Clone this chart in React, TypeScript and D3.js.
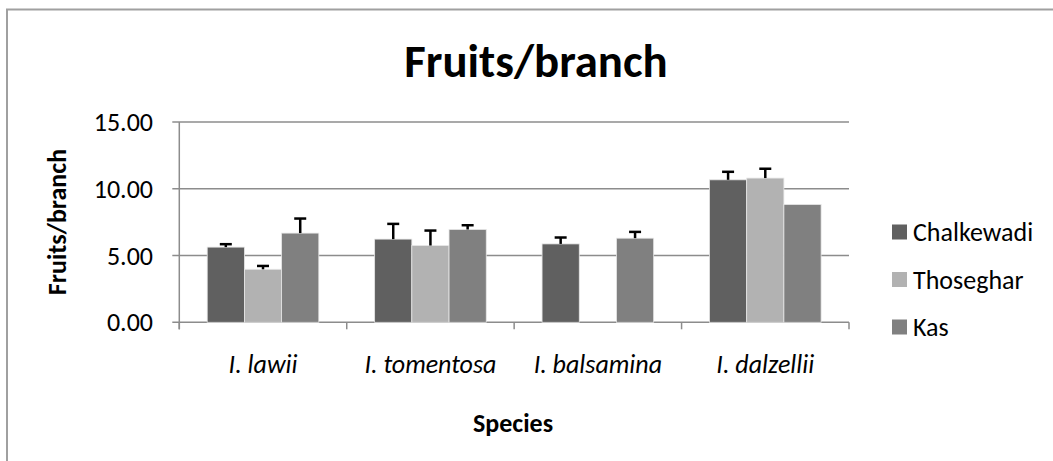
import React from "react";
import * as d3 from "d3";

const categories = ["I. lawii", "I. tomentosa", "I. balsamina", "I. dalzellii"];
const seriesNames = ["Chalkewadi", "Thoseghar", "Kas"];
const chalkewadi = [5.63, 6.23, 5.87, 10.67];
const thoseghar = [3.97, 5.75, 0, 10.8];
const kas = [6.68, 6.95, 6.3, 8.82];
const chalkewadiErr = [0.22, 1.14, 0.48, 0.6];
const thosegharErr = [0.25, 1.12, 0, 0.7];
const kasErr = [1.09, 0.32, 0.47, 0];
const yTicks = [0, 5, 10, 15];
const colors = ["#606060", "#b2b2b2", "#808080"];

const W = 1053;
const H = 461;
const FONT = "Calibri, Carlito, Lato, 'Open Sans', sans-serif";

export default function App() {
  const values = [chalkewadi, thoseghar, kas];
  const errs = [chalkewadiErr, thosegharErr, kasErr];
  const left = 179.3, right = 849, top = 122, bottom = 322.3;
  const y = d3.scaleLinear().domain([0, 15]).range([bottom, top]);
  const x0 = d3.scaleBand<string>().domain(categories).range([left, right]).padding(0);
  const x1 = d3
    .scaleBand<string>()
    .domain(seriesNames)
    .range([0, x0.bandwidth()])
    .paddingInner(0)
    .paddingOuter(0.75);
  const gridColor = "#8c8c8c";

  return (
    <svg
      width={W}
      height={H}
      style={{ position: "absolute", left: 0, top: 0, background: "#fff" }}
      fontFamily={FONT}
    >
      <rect x={0} y={0} width={W} height={H} fill="#fff" />
      {/* outer chart border */}
      <rect x={7} y={9.5} width={W + 20} height={H + 20} fill="none" stroke="#a0a0a0" strokeWidth={2} />

      <text x={536} y={77} textAnchor="middle" fontSize={46.8} fontWeight="bold" fill="#000">
        Fruits/branch
      </text>

      {/* gridlines */}
      {yTicks.map((t) => (
        <g key={t}>
          <line x1={left - 7} x2={right} y1={y(t)} y2={y(t)} stroke={gridColor} strokeWidth={1.5} />
          <text
            x={153}
            y={y(t)}
            dy="0.35em"
            textAnchor="end"
            fontSize={26}
            fill="#000"
          >
            {d3.format(".2f")(t)}
          </text>
        </g>
      ))}
      {/* y axis */}
      <line x1={left} x2={left} y1={top} y2={bottom + 7} stroke={gridColor} strokeWidth={1.5} />
      {/* category ticks */}
      {[...categories.map((c) => x0(c) as number), right].map((xv, i) => (
        <line key={i} x1={xv} x2={xv} y1={bottom} y2={bottom + 7} stroke={gridColor} strokeWidth={1.5} />
      ))}

      {/* bars */}
      {seriesNames.map((s, si) =>
        categories.map((c, ci) => {
          const v = values[si][ci];
          if (!v) return null;
          const bx = (x0(c) as number) + (x1(s) as number);
          const bw = x1.bandwidth();
          return (
            <rect
              key={s + c}
              x={bx}
              y={y(v)}
              width={bw}
              height={y(0) - y(v)}
              fill={colors[si]}
              stroke="#e6e6e6"
              strokeWidth={0.8}
            />
          );
        })
      )}

      {/* error bars */}
      {seriesNames.map((s, si) =>
        categories.map((c, ci) => {
          const v = values[si][ci];
          const e = errs[si][ci];
          if (!v || !e) return null;
          const cx = (x0(c) as number) + (x1(s) as number) + x1.bandwidth() / 2;
          return (
            <g key={"e" + s + c} stroke="#000" strokeWidth={2.5}>
              <line x1={cx} x2={cx} y1={y(v)} y2={y(v + e)} />
              <line x1={cx - 6} x2={cx + 6} y1={y(v + e)} y2={y(v + e)} />
            </g>
          );
        })
      )}

      {/* category labels */}
      {categories.map((c) => (
        <text
          key={c}
          x={(x0(c) as number) + x0.bandwidth() / 2}
          y={373}
          textAnchor="middle"
          fontSize={26}
          fontStyle="italic"
          fill="#000"
        >
          {c}
        </text>
      ))}

      <text x={513} y={432} textAnchor="middle" fontSize={26} fontWeight="bold" fill="#000">
        Species
      </text>

      <text
        transform={`translate(66, 222) rotate(-90)`}
        textAnchor="middle"
        fontSize={26}
        fontWeight="bold"
        fill="#000"
      >
        Fruits/branch
      </text>

      {/* legend */}
      {seriesNames.map((s, i) => {
        const cy = 232 + i * 47.5;
        return (
          <g key={s}>
            <rect x={892} y={cy - 7.5} width={15} height={15} fill={colors[i]} />
            <text x={913} y={cy} dy="0.35em" fontSize={26} fill="#000">
              {s}
            </text>
          </g>
        );
      })}
    </svg>
  );
}
